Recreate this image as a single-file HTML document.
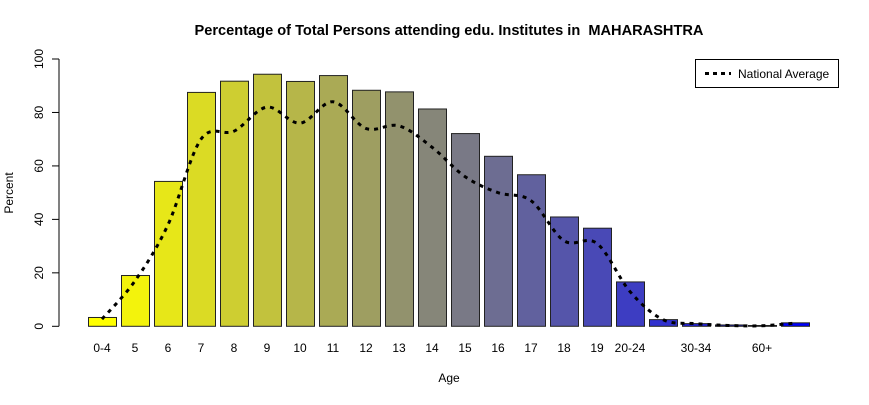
<!DOCTYPE html>
<html><head><meta charset="utf-8"><style>
body{margin:0;background:#fff;}
svg text{font-family:"Liberation Sans",Arial,sans-serif;}
</style></head><body>
<svg id="chart" width="869" height="400" viewBox="0 0 869 400" xmlns="http://www.w3.org/2000/svg">
<rect width="869" height="400" fill="#fff"/>
<text x="449" y="35" text-anchor="middle" font-size="14.6" font-weight="bold">Percentage of Total Persons attending edu. Institutes in &#160;MAHARASHTRA</text>
<text x="449" y="382" text-anchor="middle" font-size="12">Age</text>
<text transform="translate(13,193) rotate(-90)" text-anchor="middle" font-size="12">Percent</text>
<g id="yaxis"></g>
<g id="bars"></g>
<g id="xlabels"></g>
<path id="natline" fill="none" stroke="#000" stroke-width="3" stroke-dasharray="4,5"/>
<g>
<rect x="695.5" y="59.5" width="143" height="28" fill="#fff" stroke="#000"/>
<line x1="705" y1="73.5" x2="731" y2="73.5" stroke="#000" stroke-width="3" stroke-dasharray="4,4"/>
<text x="738" y="78" font-size="12">National Average</text>
</g>
</svg>
<script>
const categories=["0-4","5","6","7","8","9","10","11","12","13","14","15","16","17","18","19","20-24","25-29","30-34","35-59","60+","Age Not Stated"];
const showLabel=[1,1,1,1,1,1,1,1,1,1,1,1,1,1,1,1,1,0,1,0,1,0];
const stateValues=[3.3,19,54.2,87.5,91.7,94.3,91.6,93.8,88.3,87.7,81.3,72.1,63.6,56.7,40.9,36.7,16.6,2.5,1.0,0.5,0.3,1.3];
const nationalValues=[2.7,17,38,70,73,82,76,84,74,75,67,56,50,47,32,31,13,2.5,1.0,0.3,0.2,1.2];
const yTicks=[0,20,40,60,80,100];
const NS="http://www.w3.org/2000/svg";
const y=v=>326.3-v*2.673;
const xL=i=>88+i*33;
const xC=i=>xL(i)+14;
const yax=document.getElementById('yaxis');
let ax=document.createElementNS(NS,'line');


ax.setAttribute('x1',59);ax.setAttribute('x2',59);ax.setAttribute('y1',y(0));ax.setAttribute('y2',y(100));ax.setAttribute('stroke','#000');
yax.appendChild(ax);
yTicks.forEach(t=>{
 const l=document.createElementNS(NS,'line');
 
 
 l.setAttribute('x1',52);l.setAttribute('x2',59);l.setAttribute('y1',y(t));l.setAttribute('y2',y(t));l.setAttribute('stroke','#000');
 yax.appendChild(l);
 const tx=document.createElementNS(NS,'text');
 
 
 tx.setAttribute('transform',`translate(43,${y(t)}) rotate(-90)`);
 tx.setAttribute('text-anchor','middle');tx.setAttribute('font-size','12');
 tx.textContent=t;yax.appendChild(tx);
});
const bars=document.getElementById('bars');
const n=categories.length;
stateValues.forEach((v,i)=>{
 const f=i/(n-1);
 const r=Math.round(255*(1-f)),b=Math.round(255*f);
 const rc=document.createElementNS(NS,'rect');
 
 
 rc.setAttribute('x',xL(i)+0.5);rc.setAttribute('y',y(v));rc.setAttribute('width',28);rc.setAttribute('height',y(0)-y(v));
 rc.setAttribute('fill',`rgb(${r},${r},${b})`);rc.setAttribute('stroke','#222');rc.setAttribute('stroke-width','1');
 bars.appendChild(rc);
});
const xl=document.getElementById('xlabels');
categories.forEach((c,i)=>{
 if(!showLabel[i])return;
 const tx=document.createElementNS(NS,'text');
 
 
 tx.setAttribute('x',xC(i));tx.setAttribute('y',352);tx.setAttribute('text-anchor','middle');tx.setAttribute('font-size','12');
 tx.textContent=c;xl.appendChild(tx);
});
const pts=nationalValues.map((v,i)=>[xC(i),y(v)]);
let d=`M${pts[0][0]},${pts[0][1]}`;
for(let i=0;i<pts.length-1;i++){
 const p0=pts[Math.max(0,i-1)],p1=pts[i],p2=pts[i+1],p3=pts[Math.min(pts.length-1,i+2)];
 const c1=[p1[0]+(p2[0]-p0[0])/6,p1[1]+(p2[1]-p0[1])/6];
 const c2=[p2[0]-(p3[0]-p1[0])/6,p2[1]-(p3[1]-p1[1])/6];
 d+=` C${c1[0]},${c1[1]} ${c2[0]},${c2[1]} ${p2[0]},${p2[1]}`;
}
document.getElementById('natline').setAttribute('d',d);
</script>
</body></html>
